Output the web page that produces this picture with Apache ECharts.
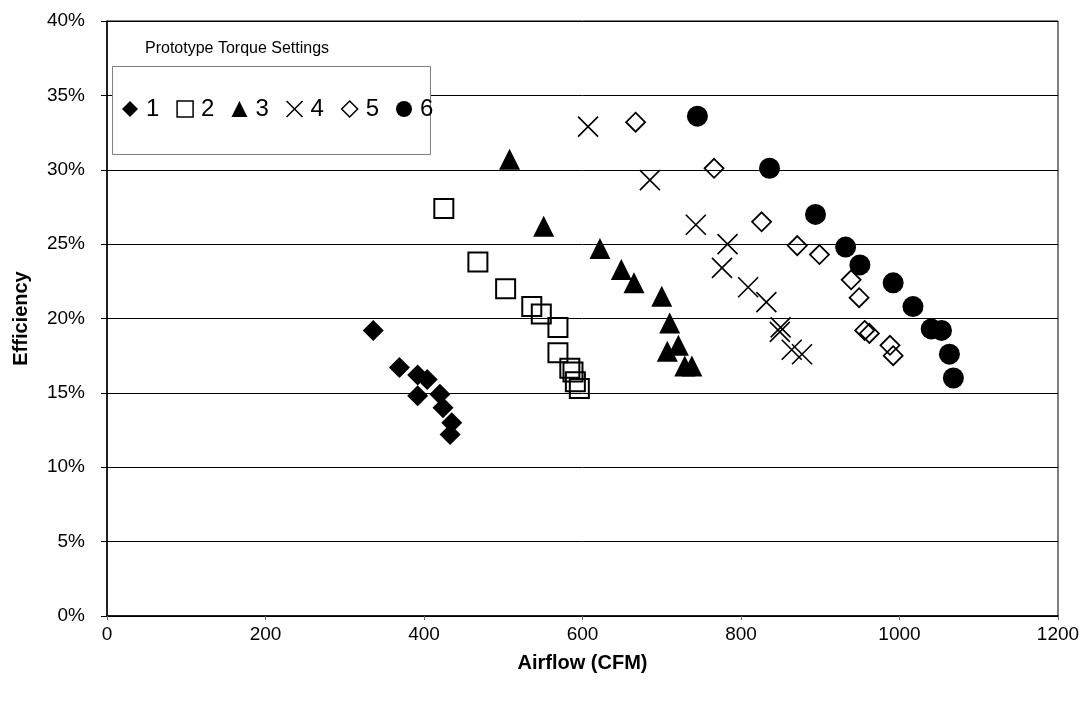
<!DOCTYPE html>
<html>
<head>
<meta charset="utf-8">
<script src="https://cdn.jsdelivr.net/npm/echarts@6/dist/echarts.min.js"></script>
<style>
html,body{margin:0;padding:0;background:#fff;}
#chart{width:1090px;height:704px;}
</style>
</head>
<body>
<div id="chart"></div>
<script>
// Data: [Airflow (CFM), Efficiency (%)]
const seriesNames = ['1', '2', '3', '4', '5', '6'];
const setting1 = [[336,19.2],[369,16.7],[392,16.2],[404,15.9],[392,14.8],[420,14.9],[424,14.0],[435,13.0],[433,12.2]];
const setting2 = [[425,27.4],[468,23.8],[503,22.0],[536,20.8],[548,20.3],[569,19.4],[569,17.7],[584,16.65],[588,16.4],[591,15.75],[596,15.3]];
const setting3 = [[508,30.7],[551,26.2],[622,24.7],[649,23.3],[665,22.4],[700,21.5],[710,19.7],[721,18.2],[707,17.8],[729,16.8],[738,16.8]];
const setting4 = [[607,32.9],[685,29.3],[743,26.3],[783,25.0],[776,23.4],[809,22.1],[832,21.1],[850,19.4],[849,19.1],[864,17.9],[877,17.6]];
const setting5 = [[667,33.2],[766,30.1],[826,26.5],[871,24.9],[899,24.3],[939,22.6],[949,21.4],[956,19.2],[962,19.0],[988,18.2],[992,17.5]];
const setting6 = [[745,33.6],[836,30.1],[894,27.0],[932,24.8],[950,23.6],[992,22.4],[1017,20.8],[1040,19.3],[1053,19.2],[1063,17.6],[1068,16.0]];
const xAxisTitle = 'Airflow (CFM)';
const yAxisTitle = 'Efficiency';
const legendTitle = 'Prototype Torque Settings';

const FONT = "'Liberation Sans', Arial, sans-serif";
const X_PATH = 'path://M0,0L10,10M10,0L0,10';

const styles = [
  {symbol: 'diamond', size: 21, item: {color: '#000', opacity: 1}},
  {symbol: 'rect', size: 19, item: {color: 'rgba(0,0,0,0)', borderColor: '#000', borderWidth: 2, opacity: 1}},
  {symbol: 'triangle', size: 21, item: {color: '#000', opacity: 1}},
  {symbol: X_PATH, size: 20, item: {color: 'rgba(0,0,0,0)', borderColor: '#000', borderWidth: 1.6, opacity: 1}},
  {symbol: 'diamond', size: 19, item: {color: 'rgba(0,0,0,0)', borderColor: '#000', borderWidth: 1.8, opacity: 1}},
  {symbol: 'circle', size: 21, item: {color: '#000', opacity: 1}}
];
const allData = [setting1, setting2, setting3, setting4, setting5, setting6];

const chart = echarts.init(document.getElementById('chart'), null, {renderer: 'canvas'});
chart.setOption({
  backgroundColor: '#fff',
  animation: false,
  title: {
    text: legendTitle,
    left: 140, top: 36,
    textStyle: {fontFamily: FONT, fontSize: 16, fontWeight: 'normal', color: '#000'}
  },
  graphic: [{
    type: 'rect', left: 112, top: 66, z: 5,
    shape: {width: 318, height: 88},
    style: {fill: '#fff', stroke: '#808080', lineWidth: 1}
  }],
  legend: {
    left: 122, top: 97, z: 10,
    padding: 0,
    itemWidth: 16, itemHeight: 16, itemGap: 17,
    textStyle: {fontFamily: FONT, fontSize: 24, color: '#000', padding: [0, 0, 0, 3]},
    data: seriesNames.map((n, i) => ({
      name: n,
      icon: styles[i].symbol,
      itemStyle: Object.assign({}, styles[i].item, styles[i].item.borderWidth ? {borderWidth: 1.5} : {})
    }))
  },
  grid: {
    left: 107, right: 32, top: 21, bottom: 88,
    show: true, borderColor: '#000', borderWidth: 1, backgroundColor: '#fff'
  },
  xAxis: {
    type: 'value', min: 0, max: 1200, interval: 200,
    name: xAxisTitle, nameLocation: 'middle', nameGap: 37,
    nameTextStyle: {fontFamily: FONT, fontSize: 20, fontWeight: 'bold', color: '#000'},
    axisLine: {show: true, lineStyle: {color: '#000', width: 1.5}},
    axisTick: {show: true, length: 4, lineStyle: {color: '#666'}},
    axisLabel: {fontFamily: FONT, fontSize: 19, color: '#000', margin: 9, formatter: v => String(v)},
    splitLine: {show: false}
  },
  yAxis: {
    type: 'value', min: 0, max: 40, interval: 5,
    name: yAxisTitle, nameLocation: 'middle', nameGap: 76, nameRotate: 90,
    nameTextStyle: {fontFamily: FONT, fontSize: 20, fontWeight: 'bold', color: '#000'},
    axisLine: {show: true, lineStyle: {color: '#000', width: 1.5}},
    axisTick: {show: true, length: 6, lineStyle: {color: '#000'}},
    axisLabel: {fontFamily: FONT, fontSize: 19, color: '#000', margin: 22, formatter: v => v + '%'},
    splitLine: {show: true, lineStyle: {color: '#000', width: 1}}
  },
  series: allData.map((d, i) => ({
    name: seriesNames[i],
    type: 'scatter',
    data: d,
    symbol: styles[i].symbol,
    symbolSize: styles[i].size,
    itemStyle: styles[i].item,
    emphasis: {disabled: true},
    z: 3
  }))
});
</script>
</body>
</html>
